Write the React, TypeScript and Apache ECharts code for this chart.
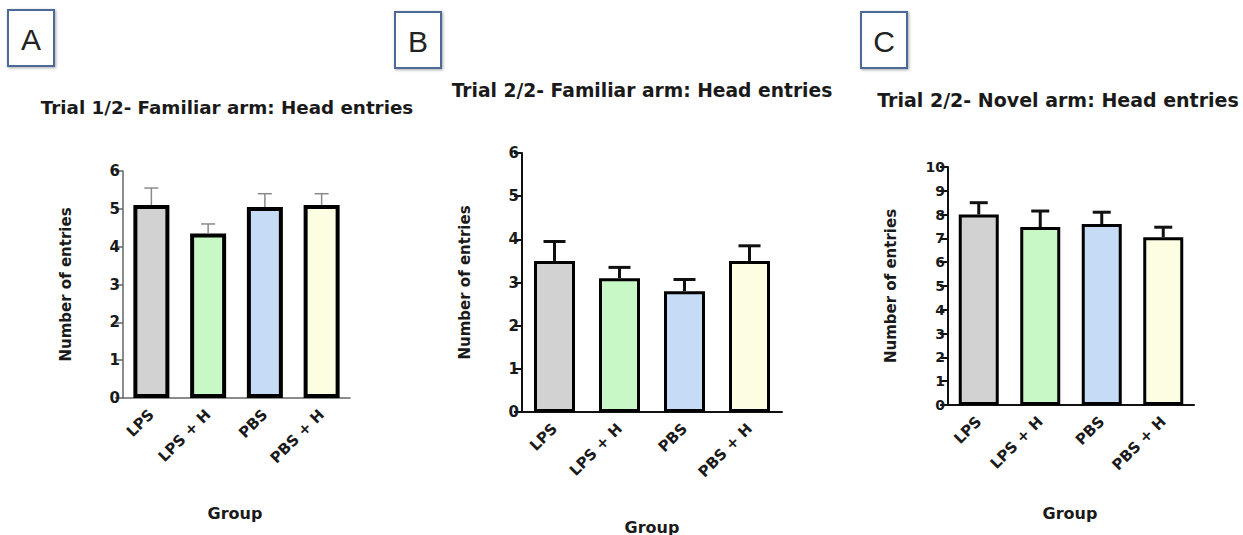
import React, { useEffect, useRef } from "react";
import * as echarts from "echarts";

const categories = ["LPS", "LPS + H", "PBS", "PBS + H"];

const titleA = "Trial 1/2- Familiar arm: Head entries";
const titleB = "Trial 2/2- Familiar arm: Head entries";
const titleC = "Trial 2/2- Novel arm: Head entries";

const meansA = [5.1, 4.35, 5.05, 5.1];
const errTopA = [5.55, 4.6, 5.4, 5.4];
const meansB = [3.5, 3.1, 2.8, 3.5];
const errTopB = [3.95, 3.35, 3.07, 3.85];
const meansC = [8.0, 7.48, 7.6, 7.05];
const errTopC = [8.5, 8.15, 8.1, 7.47];

const yMaxA = 6;
const yMaxB = 6;
const yMaxC = 10;

const barColors = ["#d2d2d2", "#c8f8c6", "#c6dbf5", "#fdfde2"];

const FONT = "DejaVu Sans";

type PanelCfg = {
  grid: { left: number; top: number; width: number; height: number };
  means: number[];
  tops: number[];
  yMax: number;
  barWidth: number;
  borderWidth: number;
  axisColor: string;
  axisWidth: number;
  errColor: string;
  errWidth: number;
  capWidth: number;
  nameGap: number;
  tickFont: number;
};

const panels: PanelCfg[] = [
  {
    grid: { left: 123, top: 171, width: 227, height: 227 },
    means: meansA,
    tops: errTopA,
    yMax: yMaxA,
    barWidth: 36,
    borderWidth: 4,
    axisColor: "#666",
    axisWidth: 1.5,
    errColor: "#8a8a8a",
    errWidth: 1.5,
    capWidth: 14,
    nameGap: 50,
    tickFont: 15,
  },
  {
    grid: { left: 522, top: 153, width: 260, height: 259 },
    means: meansB,
    tops: errTopB,
    yMax: yMaxB,
    barWidth: 41,
    borderWidth: 3,
    axisColor: "#111",
    axisWidth: 2,
    errColor: "#111",
    errWidth: 3,
    capWidth: 22,
    nameGap: 50,
    tickFont: 15,
  },
  {
    grid: { left: 948, top: 167, width: 246, height: 238 },
    means: meansC,
    tops: errTopC,
    yMax: yMaxC,
    barWidth: 40,
    borderWidth: 3,
    axisColor: "#111",
    axisWidth: 2,
    errColor: "#111",
    errWidth: 3,
    capWidth: 18,
    nameGap: 50,
    tickFont: 14,
  },
];

function buildOption() {
  const grid: any[] = [];
  const xAxis: any[] = [];
  const yAxis: any[] = [];
  const series: any[] = [];

  panels.forEach((p, i) => {
    grid.push({ ...p.grid, containLabel: false });
    xAxis.push({
      type: "category",
      gridIndex: i,
      data: categories,
      axisLine: { lineStyle: { color: p.axisColor, width: p.axisWidth } },
      axisTick: { alignWithLabel: true, length: 8, lineStyle: { color: p.axisColor, width: p.axisWidth } },
      axisLabel: {
        rotate: 45,
        margin: 14,
        fontFamily: FONT,
        fontWeight: "bold",
        fontSize: 15,
        color: "#1a1a1a",
        interval: 0,
      },
      splitLine: { show: false },
    });
    yAxis.push({
      type: "value",
      gridIndex: i,
      min: 0,
      max: p.yMax,
      interval: 1,
      name: "Number of entries",
      nameLocation: "middle",
      nameRotate: 90,
      nameGap: p.nameGap,
      nameTextStyle: { fontFamily: FONT, fontWeight: "bold", fontSize: 15, color: "#1a1a1a" },
      axisLine: { show: true, lineStyle: { color: p.axisColor, width: p.axisWidth } },
      axisTick: { show: true, length: 8, lineStyle: { color: p.axisColor, width: p.axisWidth } },
      axisLabel: { fontFamily: FONT, fontWeight: "bold", fontSize: p.tickFont, color: "#1a1a1a", margin: 3 },
      splitLine: { show: false },
    });
    series.push({
      type: "bar",
      xAxisIndex: i,
      yAxisIndex: i,
      barWidth: p.barWidth,
      data: p.means.map((v, k) => ({
        value: v,
        itemStyle: { color: barColors[k], borderColor: "#000", borderWidth: p.borderWidth },
      })),
      z: 2,
    });
    series.push({
      type: "custom",
      xAxisIndex: i,
      yAxisIndex: i,
      z: 3,
      data: p.means.map((v, k) => [k, v, p.tops[k]]),
      renderItem: (params: any, api: any) => {
        const x = api.value(0);
        const m = api.value(1);
        const t = api.value(2);
        const p0 = api.coord([x, m]);
        const p1 = api.coord([x, t]);
        const hw = p.capWidth / 2;
        const style = { stroke: p.errColor, lineWidth: p.errWidth };
        return {
          type: "group",
          children: [
            { type: "line", shape: { x1: p0[0], y1: p0[1], x2: p1[0], y2: p1[1] }, style },
            { type: "line", shape: { x1: p1[0] - hw, y1: p1[1], x2: p1[0] + hw, y2: p1[1] }, style },
          ],
        };
      },
    });
  });

  const boxes = [
    { x: 8, y: 10, label: "A" },
    { x: 395, y: 12, label: "B" },
    { x: 861, y: 12, label: "C" },
  ];
  const titles = [
    { x: 227, y: 107, text: titleA, size: 18.3 },
    { x: 642, y: 90, text: titleB, size: 18.7 },
    { x: 1058, y: 100, text: titleC, size: 19 },
  ];
  const groups = [
    { x: 235, y: 513 },
    { x: 652, y: 527 },
    { x: 1070, y: 513 },
  ];

  const graphic: any[] = [];
  boxes.forEach((b) => {
    graphic.push({
      type: "rect",
      shape: { x: b.x, y: b.y, width: 46, height: 56 },
      style: {
        fill: "#fff",
        stroke: "#4b6a98",
        lineWidth: 2,
        shadowBlur: 3,
        shadowColor: "rgba(0,0,0,0.35)",
        shadowOffsetX: 1,
        shadowOffsetY: 1,
      },
      z: 10,
    });
    graphic.push({
      type: "text",
      x: b.x + 23,
      y: b.y + 29,
      style: {
        text: b.label,
        fontFamily: "Liberation Sans",
        fontSize: 30,
        fill: "#222",
        textAlign: "center",
        textVerticalAlign: "middle",
      },
      z: 11,
    });
  });
  titles.forEach((t) => {
    graphic.push({
      type: "text",
      x: t.x,
      y: t.y,
      style: {
        text: t.text,
        fontFamily: FONT,
        fontWeight: "bold",
        fontSize: t.size,
        fill: "#1a1a1a",
        textAlign: "center",
        textVerticalAlign: "middle",
      },
      z: 10,
    });
  });
  groups.forEach((g) => {
    graphic.push({
      type: "text",
      x: g.x,
      y: g.y,
      style: {
        text: "Group",
        fontFamily: FONT,
        fontWeight: "bold",
        fontSize: 16,
        fill: "#1a1a1a",
        textAlign: "center",
        textVerticalAlign: "middle",
      },
      z: 10,
    });
  });

  return {
    animation: false,
    backgroundColor: "#fff",
    grid,
    xAxis,
    yAxis,
    series,
    graphic,
  };
}

export default function App() {
  const ref = useRef<HTMLDivElement>(null);
  useEffect(() => {
    document.body.style.margin = "0";
    if (!ref.current) return;
    const chart = echarts.init(ref.current, undefined, { renderer: "svg" });
    chart.setOption(buildOption() as any);
    return () => chart.dispose();
  }, []);
  return <div ref={ref} style={{ width: 1243, height: 535 }} />;
}
